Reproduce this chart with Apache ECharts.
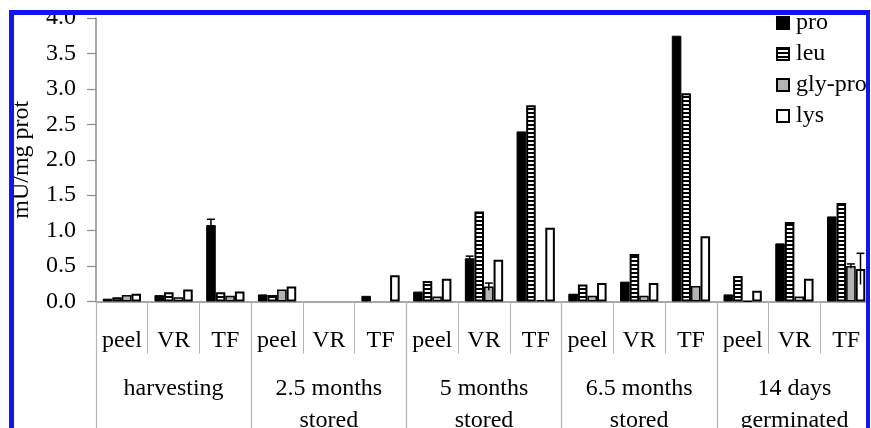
<!DOCTYPE html>
<html>
<head>
<meta charset="utf-8">
<script src="https://cdn.jsdelivr.net/npm/echarts@6/dist/echarts.min.js"></script>
<style>
  html, body { margin: 0; padding: 0; background: #fff; }
  #chart { width: 871px; height: 428px; }
</style>
</head>
<body>
<div id="chart"></div>
<script>
// Sub-category (tissue) labels and the storage stage each triple belongs to
const tissues = ['peel', 'VR', 'TF', 'peel', 'VR', 'TF', 'peel', 'VR', 'TF', 'peel', 'VR', 'TF', 'peel', 'VR', 'TF'];
const stages = ['harvesting', '2.5 months\nstored', '5 months\nstored', '6.5 months\nstored', '14 days\ngerminated'];

// Aminopeptidase activities, mU/mg prot
const pro    = [0.04, 0.09, 1.08, 0.10, 0, 0.08, 0.14, 0.61, 2.40, 0.11, 0.28, 3.75, 0.10, 0.82, 1.20];
const leu    = [0.06, 0.13, 0.13, 0.09, 0, 0,    0.29, 1.27, 2.77, 0.24, 0.67, 2.94, 0.36, 1.12, 1.39];
const glyPro = [0.09, 0.06, 0.08, 0.17, 0, 0,    0.07, 0.21, 0.02, 0.08, 0.08, 0.22, 0.01, 0.07, 0.50];
const lys    = [0.11, 0.17, 0.14, 0.21, 0, 0.37, 0.32, 0.59, 1.04, 0.26, 0.26, 0.92, 0.15, 0.32, 0.46];

// Standard deviations (0 = no error bar drawn)
const errPro    = [0, 0, 0.08, 0, 0, 0, 0, 0.03, 0, 0, 0, 0, 0, 0, 0];
const errLeu    = [0, 0, 0,    0, 0, 0, 0, 0,    0, 0, 0, 0, 0, 0, 0];
const errGlyPro = [0, 0, 0,    0, 0, 0, 0, 0.05, 0, 0, 0, 0, 0, 0, 0.03];
const errLys    = [0, 0, 0,    0, 0, 0, 0, 0,    0, 0, 0, 0, 0, 0, 0.22];

const yTicks = { min: 0, max: 4, interval: 0.5 };

const FONT = 'Liberation Serif, Times New Roman, serif';
const TEXT = '#000';
const AXIS = '#8c8c8c';
const SEP = '#b4b4b4';
const GAP = 0.26;

// Horizontal-stripe fill for the "leu" bars
function stripes() {
  const c = document.createElement('canvas');
  c.width = 8; c.height = 4;
  const g = c.getContext('2d');
  g.fillStyle = '#000'; g.fillRect(0, 0, 8, 4);
  g.fillStyle = '#fff'; g.fillRect(0, 2, 8, 2);
  return c;
}

const seriesDefs = [
  { name: 'pro', data: pro, err: errPro, style: { color: '#000', borderColor: '#000', borderWidth: 1 } },
  { name: 'leu', data: leu, err: errLeu, style: { color: { image: stripes(), repeat: 'repeat' }, borderColor: '#000', borderWidth: 2 } },
  { name: 'gly-pro', data: glyPro, err: errGlyPro, style: { color: '#b3b3b3', borderColor: '#000', borderWidth: 1.5 } },
  { name: 'lys', data: lys, err: errLys, style: { color: '#fff', borderColor: '#000', borderWidth: 2 } }
];

const errData = [];
seriesDefs.forEach((s, si) => {
  s.err.forEach((e, ci) => { if (e > 0) errData.push([ci, s.data[ci], e, si]); });
});

// zero activity: no bar is drawn at all
const barSeries = seriesDefs.map(s => ({
  name: s.name,
  type: 'bar',
  xAxisIndex: 0,
  data: s.data.map(v => (v === 0 ? '-' : v)),
  barGap: '0%',
  barCategoryGap: (GAP * 100) + '%',
  itemStyle: s.style,
  emphasis: { disabled: true },
  animation: false
}));

const errorSeries = {
  type: 'custom',
  xAxisIndex: 0,
  data: errData,
  encode: { x: 0, y: 1 },
  z: 5,
  animation: false,
  renderItem: function (params, api) {
    const ci = api.value(0), v = api.value(1), e = api.value(2), si = api.value(3);
    const band = api.size([1, 0])[0];
    const bw = band * (1 - GAP) / 4;
    const base = api.coord([ci, v]);
    const x = base[0] + (si - 1.5) * bw;
    const top = api.coord([ci, v + e])[1];
    const bot = api.coord([ci, Math.max(0, v - e)])[1];
    const st = { stroke: '#000', lineWidth: 1.5 };
    return {
      type: 'group',
      children: [
        { type: 'line', shape: { x1: x, y1: top, x2: x, y2: bot }, style: st },
        { type: 'line', shape: { x1: x - 4, y1: top, x2: x + 4, y2: top }, style: st }
      ]
    };
  }
};

const chart = echarts.init(document.getElementById('chart'), null, { renderer: 'canvas' });

chart.setOption({
  backgroundColor: '#fff',
  animation: false,
  grid: { left: 96, right: -1, top: 18, bottom: 126.5, containLabel: false, outerBoundsMode: 'none' },
  legend: {
    orient: 'vertical',
    left: 776,
    top: 11,
    padding: 0,
    itemWidth: 12,
    itemHeight: 12,
    itemGap: 7,
    icon: 'rect',
    selectedMode: false,
    textStyle: { fontFamily: FONT, fontSize: 24, color: TEXT, padding: [0, 0, 0, 2] },
    data: seriesDefs.map(s => s.name)
  },
  xAxis: [
    {
      type: 'category',
      data: tissues,
      position: 'bottom',
      axisLine: { show: true, lineStyle: { color: AXIS, width: 1.5 } },
      axisTick: { show: true, length: 52, lineStyle: { color: SEP, width: 1 } },
      axisLabel: { fontFamily: FONT, fontSize: 24, color: TEXT, margin: 27, interval: 0 },
      splitLine: { show: false }
    },
    {
      type: 'category',
      data: stages,
      position: 'bottom',
      axisLine: { show: false },
      axisTick: { show: true, length: 130, lineStyle: { color: SEP, width: 1.2 } },
      axisLabel: { fontFamily: FONT, fontSize: 24, color: TEXT, margin: 71, lineHeight: 32, interval: 0 },
      splitLine: { show: false }
    }
  ],
  yAxis: {
    type: 'value',
    min: yTicks.min,
    max: yTicks.max,
    interval: yTicks.interval,
    name: 'mU/mg prot',
    nameLocation: 'middle',
    nameRotate: 90,
    nameGap: 62,
    nameTextStyle: { fontFamily: FONT, fontSize: 24, color: TEXT },
    axisLine: { show: true, lineStyle: { color: AXIS, width: 1.5 } },
    axisTick: { show: true, inside: false, length: 9, lineStyle: { color: AXIS, width: 1.2 } },
    axisLabel: { fontFamily: FONT, fontSize: 24, color: TEXT, margin: 20, formatter: v => v.toFixed(1) },
    splitLine: { show: false }
  },
  series: barSeries.concat([errorSeries]),
  graphic: [
    // white margin and blue frame drawn over the plot
    { type: 'rect', z: 100, silent: true, shape: { x: 0, y: 0, width: 871, height: 10 }, style: { fill: '#fff' } },
    { type: 'rect', z: 100, silent: true, shape: { x: 0, y: 0, width: 9, height: 428 }, style: { fill: '#fff' } },
    { type: 'rect', z: 100, silent: true, shape: { x: 870, y: 0, width: 1, height: 428 }, style: { fill: '#fff' } },
    { type: 'rect', z: 101, silent: true, shape: { x: 9, y: 10, width: 861, height: 5 }, style: { fill: '#1414f0' } },
    { type: 'rect', z: 101, silent: true, shape: { x: 9, y: 10, width: 5, height: 418 }, style: { fill: '#1414f0' } },
    { type: 'rect', z: 101, silent: true, shape: { x: 866, y: 10, width: 4, height: 418 }, style: { fill: '#1414f0' } }
  ]
});
</script>
</body>
</html>
